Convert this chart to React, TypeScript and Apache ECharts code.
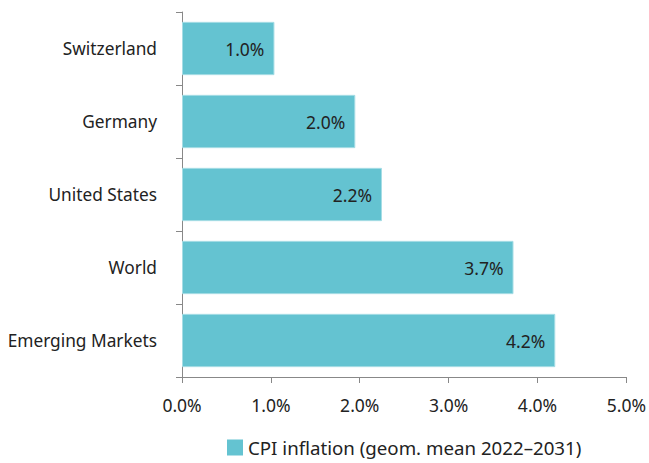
import React, { useEffect, useRef } from "react";
import * as echarts from "echarts";

const categories = ["Switzerland", "Germany", "United States", "World", "Emerging Markets"];
const values = [1.04, 1.95, 2.25, 3.73, 4.2];
const labels = ["1.0%", "2.0%", "2.2%", "3.7%", "4.2%"];
const seriesName = "CPI inflation (geom. mean 2022\u20132031)";

export default function App() {
  const ref = useRef<HTMLDivElement>(null);
  useEffect(() => {
    if (!ref.current) return;
    const chart = echarts.init(ref.current, null, { renderer: "svg" });
    const font = "Noto Sans";
    chart.setOption({
      animation: false,
      textStyle: { fontFamily: font },
      grid: { left: 182, right: 21, top: 12, bottom: 86, containLabel: false },
      legend: {
        bottom: 1,
        left: 222,
        itemWidth: 16,
        itemHeight: 16,
        itemGap: 8,
        icon: "rect",
        itemStyle: { borderWidth: 0 },
        textStyle: { fontSize: 18.7, color: "#222", fontFamily: font },
        data: [seriesName],
      },
      xAxis: {
        type: "value",
        min: 0,
        max: 5,
        interval: 1,
        axisLine: { show: true, lineStyle: { color: "#888", width: 1 } },
        axisTick: { show: true, length: 6, lineStyle: { color: "#888" } },
        splitLine: { show: false },
        axisLabel: {
          formatter: (v: number) => v.toFixed(1) + "%",
          fontSize: 17.5,
          color: "#222",
          margin: 19,
          fontFamily: font,
        },
      },
      yAxis: {
        type: "category",
        data: categories,
        inverse: true,
        axisLine: { show: true, lineStyle: { color: "#888", width: 1 } },
        axisTick: { show: true, length: 6, alignWithLabel: false, lineStyle: { color: "#888" } },
        axisLabel: { fontSize: 17.3, color: "#222", margin: 25, fontFamily: font },
      },
      series: [
        {
          name: seriesName,
          type: "bar",
          data: values,
          barWidth: "73%",
          itemStyle: { color: "#64C3D1", borderColor: "#A6DDE5", borderWidth: 1 },
          label: {
            show: true,
            position: "insideRight",
            distance: 10,
            fontSize: 17.5,
            color: "#222",
            fontFamily: font,
            formatter: (p: any) => labels[p.dataIndex],
          },
        },
      ],
    });
    return () => chart.dispose();
  }, []);
  return <div ref={ref} style={{ position: "absolute", left: 0, top: 0, width: 649, height: 463 }} />;
}
